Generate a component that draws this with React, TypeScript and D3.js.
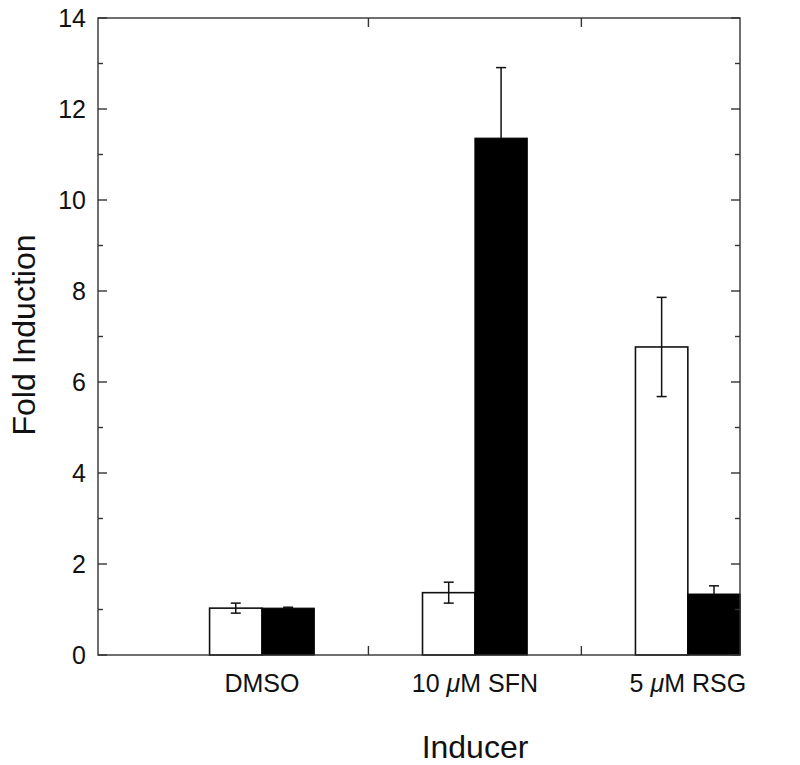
import React from "react";
import * as d3 from "d3";

const categories = ["DMSO", "10 μM SFN", "5 μM RSG"];
const whiteValues = [1.03, 1.37, 6.77];
const whiteErrors = [0.11, 0.23, 1.09];
const blackValues = [1.03, 11.36, 1.34];
const blackErrors = [0.02, 1.55, 0.18];
const yTicks = [0, 2, 4, 6, 8, 10, 12, 14];
const yMinorTicks = [1, 3, 5, 7, 9, 11, 13];
const xBoundaryTicks = [1.5, 2.5];

const W = 800, H = 765;
const left = 98, right = 740, top = 18, bottom = 655;
const font = "'Liberation Sans', Arial, Helvetica, sans-serif";

export default function App() {
  const x = d3.scaleLinear().domain([0.23, 3.245]).range([left, right]);
  const y = d3.scaleLinear().domain([0, 14]).range([bottom, top]);
  const bw = 0.246;
  const axisColor = "#333";

  const bars: any[] = [];
  categories.forEach((c, i) => {
    const pos = i + 1;
    const wx0 = x(pos - bw), wx1 = x(pos);
    const bx0 = x(pos), bx1 = x(pos + bw);
    const wv = whiteValues[i], bv = blackValues[i];
    const wcx = (wx0 + wx1) / 2, bcx = (bx0 + bx1) / 2;
    bars.push(
      <g key={c}>
        <rect x={wx0} y={y(wv)} width={wx1 - wx0} height={y(0) - y(wv)} fill="#fff" stroke="#111" strokeWidth={1.6} />
        <line x1={wcx} x2={wcx} y1={y(wv + whiteErrors[i])} y2={y(wv - whiteErrors[i])} stroke="#111" strokeWidth={1.5} />
        <line x1={wcx - 5} x2={wcx + 5} y1={y(wv + whiteErrors[i])} y2={y(wv + whiteErrors[i])} stroke="#111" strokeWidth={1.5} />
        <line x1={wcx - 5} x2={wcx + 5} y1={y(wv - whiteErrors[i])} y2={y(wv - whiteErrors[i])} stroke="#111" strokeWidth={1.5} />
        <rect x={bx0} y={y(bv)} width={bx1 - bx0} height={y(0) - y(bv)} fill="#000" stroke="#000" strokeWidth={1} />
        <line x1={bcx} x2={bcx} y1={y(bv + blackErrors[i])} y2={y(bv)} stroke="#111" strokeWidth={1.5} />
        <line x1={bcx - 5} x2={bcx + 5} y1={y(bv + blackErrors[i])} y2={y(bv + blackErrors[i])} stroke="#111" strokeWidth={1.5} />
        <text x={x(pos)} y={692} textAnchor="middle" fontSize={25} fontFamily={font} fill="#111">{c.includes("μ") ? (
          <>
            {c.split("μ")[0]}<tspan fontStyle="italic">μ</tspan>{c.split("μ")[1]}
          </>
        ) : c}</text>
      </g>
    );
  });

  return (
    <svg width={W} height={H} style={{ position: "absolute", left: 0, top: 0, background: "#fff" }}>
      <rect x={0} y={0} width={W} height={H} fill="#fff" />
      {bars}
      <rect x={left} y={top} width={right - left} height={bottom - top} fill="none" stroke={axisColor} strokeWidth={1.4} />
      {yTicks.map((t) => (
        <g key={"y" + t}>
          <line x1={left} x2={left + 9} y1={y(t)} y2={y(t)} stroke={axisColor} strokeWidth={1.4} />
          <line x1={right} x2={right - 9} y1={y(t)} y2={y(t)} stroke={axisColor} strokeWidth={1.4} />
          <text x={86} y={y(t) + 9} textAnchor="end" fontSize={25} fontFamily={font} fill="#111">{t}</text>
        </g>
      ))}
      {yMinorTicks.map((t) => (
        <g key={"ym" + t}>
          <line x1={left} x2={left + 5} y1={y(t)} y2={y(t)} stroke={axisColor} strokeWidth={1.4} />
          <line x1={right} x2={right - 5} y1={y(t)} y2={y(t)} stroke={axisColor} strokeWidth={1.4} />
        </g>
      ))}
      {xBoundaryTicks.map((t) => (
        <g key={"x" + t}>
          <line x1={x(t)} x2={x(t)} y1={bottom} y2={bottom - 9} stroke={axisColor} strokeWidth={1.4} />
          <line x1={x(t)} x2={x(t)} y1={top} y2={top + 9} stroke={axisColor} strokeWidth={1.4} />
        </g>
      ))}
      <text x={475} y={758} textAnchor="middle" fontSize={32} fontFamily={font} fill="#111">Inducer</text>
      <text transform={`translate(35, 335) rotate(-90)`} textAnchor="middle" fontSize={32} fontFamily={font} fill="#111">Fold Induction</text>
    </svg>
  );
}
